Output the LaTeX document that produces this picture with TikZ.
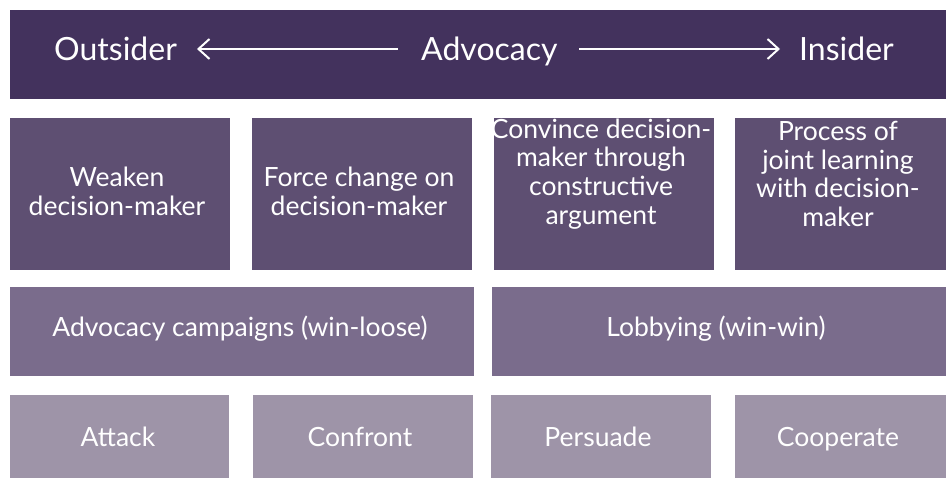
\documentclass[tikz,border=0pt]{standalone}
\usepackage{fontspec}
\setmainfont{Lato}
\usetikzlibrary{arrows.meta}
\definecolor{cTop}{HTML}{43325D}
\definecolor{cRowA}{HTML}{5E4F72}
\definecolor{cRowB}{HTML}{7A6C8C}
\definecolor{cRowC}{HTML}{9E94A8}
\tikzset{
  panel/.style={draw=none, inner sep=0pt, outer sep=0pt, anchor=north west},
  lbl/.style={text=white, inner sep=0pt, align=center, font=\fontsize{26.5}{28.7}\selectfont},
  toplbl/.style={text=white, inner sep=0pt, anchor=base west, font=\fontsize{32}{36}\selectfont},
  dirarrow/.style={white, line width=2pt, -{Straight Barb[length=11pt,width=20pt,line width=2pt]}}
}
\begin{document}
\begin{tikzpicture}[x=1pt,y=-1pt]
\useasboundingbox (0,0) rectangle (946,478);
% top band
\node[panel, fill=cTop, minimum width=936pt, minimum height=89pt] (top) at (10,10) {};
\node[toplbl] (outsider) at (54,61) {Outsider};
\node[toplbl] (advocacy) at (421,61) {Advocacy};
\node[toplbl] (insider) at (799,61) {Insider};
\coordinate (la) at (398,49);
\coordinate (lb) at (197,49);
\coordinate (ra) at (579,49);
\coordinate (rb) at (780,49);
\draw[dirarrow] (la) -- (lb);
\draw[dirarrow] (ra) -- (rb);
% row 2
\node[panel, fill=cRowA, minimum width=220pt, minimum height=152pt] (w) at (10,118) {};
\node[panel, fill=cRowA, minimum width=220pt, minimum height=152pt] (f) at (252,118) {};
\node[panel, fill=cRowA, minimum width=220pt, minimum height=152pt] (c) at (494,118) {};
\node[panel, fill=cRowA, minimum width=211pt, minimum height=152pt] (p) at (735,118) {};
\node[lbl] (wt) at (117,191) {Weaken\\decision-maker};
\node[lbl] (ft) at (359,191) {Force change on\\decision-maker};
\node[lbl] (ct) at (601,174) {Convince decision-\\maker through\\constructive\\argument};
\node[lbl] (pt) at (838,174) {Process of\\joint learning\\with decision-\\maker};
% row 3
\node[panel, fill=cRowB, minimum width=464pt, minimum height=89pt] (camp) at (10,287) {};
\node[panel, fill=cRowB, minimum width=454pt, minimum height=89pt] (lobby) at (492,287) {};
\node[lbl, anchor=base] (campt) at (240,337) {Advocacy campaigns (win-loose)};
\node[lbl, anchor=base] (lobbyt) at (716,337) {Lobbying (win-win)};
% row 4
\node[panel, fill=cRowC, minimum width=219pt, minimum height=83pt] (att) at (10,395) {};
\node[panel, fill=cRowC, minimum width=220pt, minimum height=83pt] (con) at (253,395) {};
\node[panel, fill=cRowC, minimum width=220pt, minimum height=83pt] (per) at (491,395) {};
\node[panel, fill=cRowC, minimum width=211pt, minimum height=83pt] (coo) at (735,395) {};
\node[lbl, anchor=base] (attt) at (118,447) {Attack};
\node[lbl, anchor=base] (cont) at (360,447) {Confront};
\node[lbl, anchor=base] (pert) at (598,447) {Persuade};
\node[lbl, anchor=base] (coot) at (838,447) {Cooperate};
\end{tikzpicture}
\end{document}
